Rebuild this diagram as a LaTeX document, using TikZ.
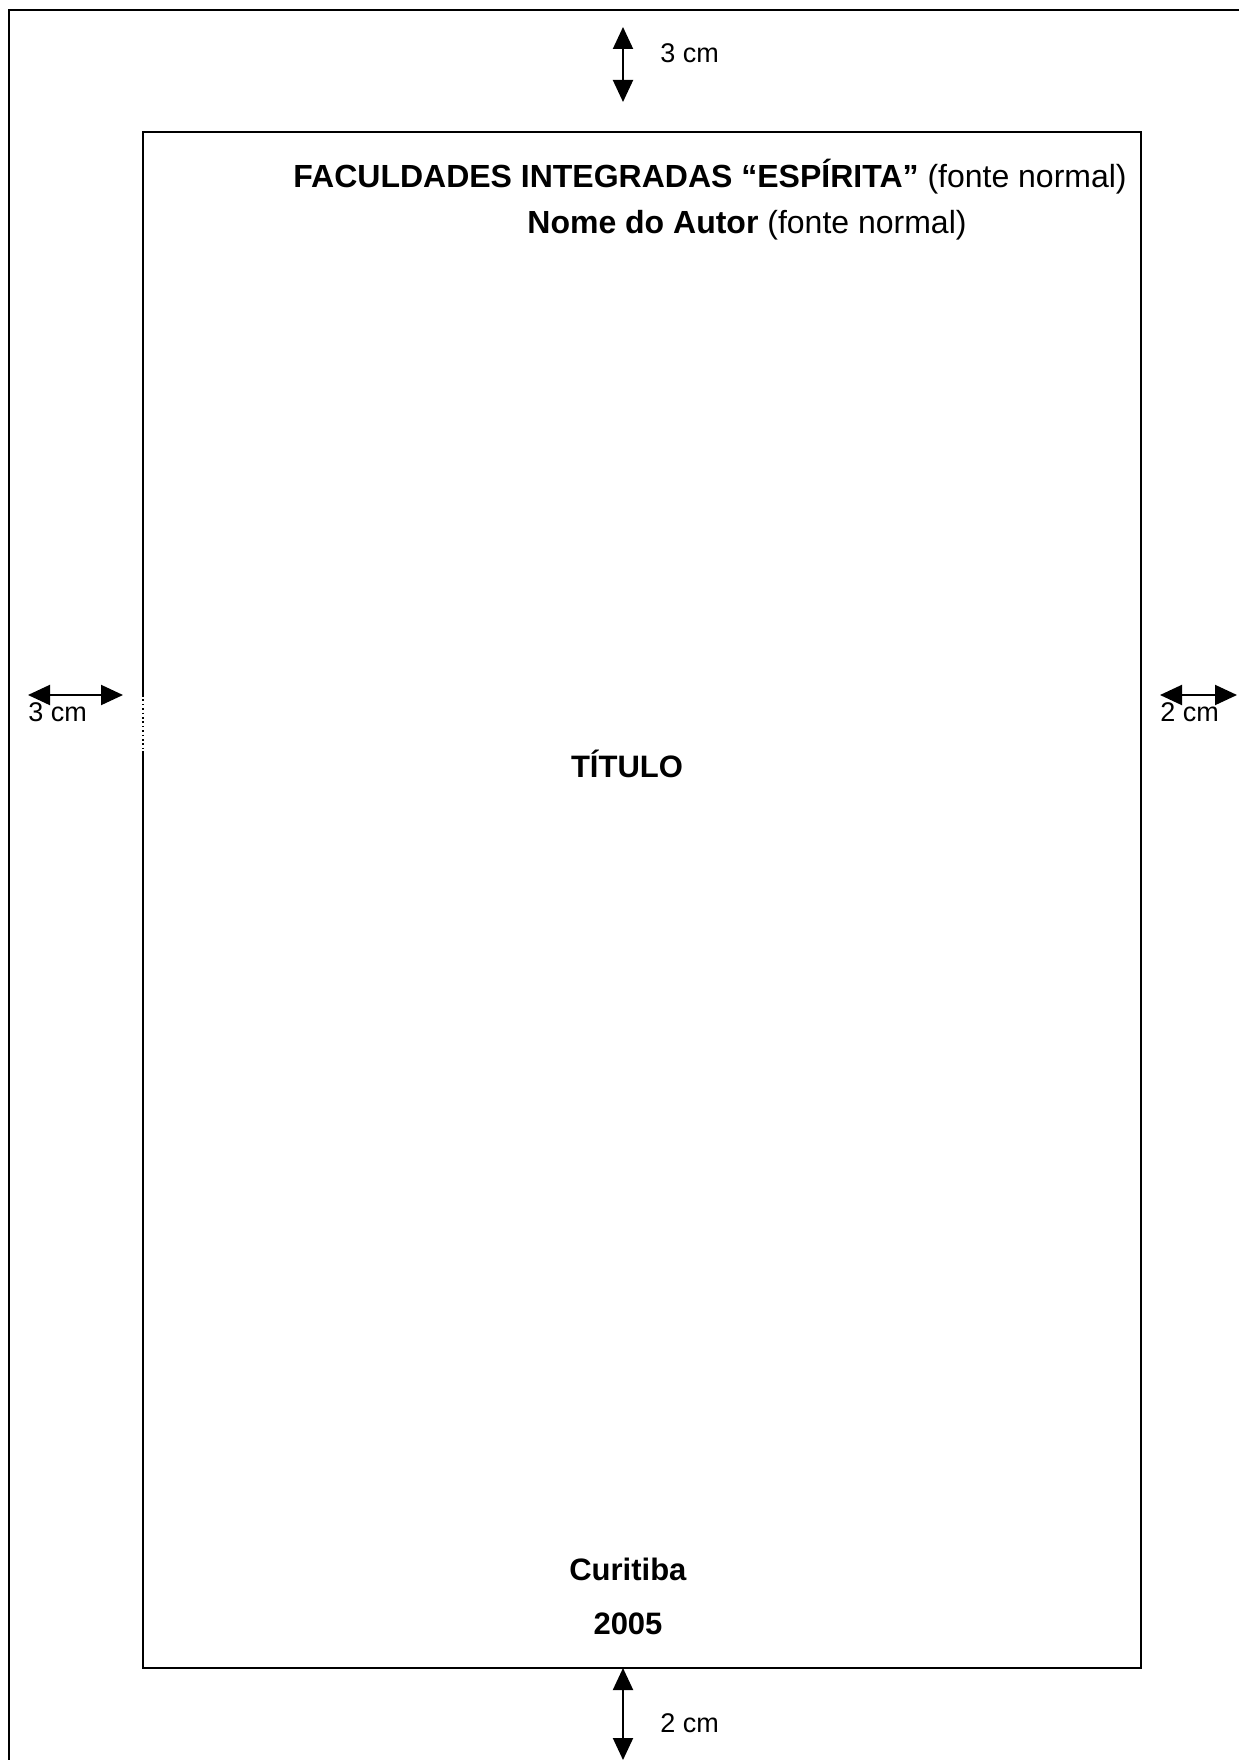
\documentclass[tikz,border=0pt]{standalone}
\usepackage{fontspec}
\setmainfont{Liberation Sans}
\usetikzlibrary{arrows.meta,positioning}

\begin{document}
\begin{tikzpicture}[x=0.5pt, y=-0.5pt,
  folha/.style={line width=1pt},
  margem/.style={line width=1.3pt},
  cota/.style={line width=1pt, {Triangle[length=11pt,width=10pt]}-{Triangle[length=11pt,width=10pt]}},
  rotulo/.style={inner sep=0pt, font=\fontsize{13.5}{16}\selectfont},
  texto/.style={inner sep=0pt, font=\fontsize{15.5}{18}\selectfont},
  topo/.style={inner sep=0pt, font=\fontsize{16}{19}\selectfont}]

\useasboundingbox (0,0) rectangle (1239,1760);

% folha (A4)
\draw[folha] (1239,10) -- (9,10) -- (9,1760);

% area de texto
\draw[margem] (143,695) -- (143,132) -- (1141,132) -- (1141,1668) -- (143,1668) -- (143,751);
\draw[line width=1.1pt, dash pattern=on 0.8pt off 1.4pt] (143,695) -- (143,751);

% cotas das margens
\coordinate (sup1) at (623,27);
\coordinate (sup2) at (623,102);
\draw[cota] (sup1) -- (sup2);
\node[rotulo, anchor=west] (msup) at (660,53) {3 cm};

\coordinate (esq1) at (28,695);
\coordinate (esq2) at (123,695);
\draw[cota] (esq1) -- (esq2);
\node[rotulo, anchor=west] (mesq) at (28,712) {3 cm};

\coordinate (dir1) at (1160,695);
\coordinate (dir2) at (1237,695);
\draw[cota] (dir1) -- (dir2);
\node[rotulo, anchor=west] (mdir) at (1160,712) {2 cm};

\coordinate (inf1) at (623,1668);
\coordinate (inf2) at (623,1760);
\draw[cota] (inf1) -- (inf2);
\node[rotulo, anchor=west] (minf) at (660,1723) {2 cm};

% textos da capa
\node[topo, anchor=west] (facul) at (293,177)
  {\textbf{FACULDADES INTEGRADAS “ESPÍRITA”} (fonte normal)};
\node[topo, anchor=west] (autor) at (527,225)
  {\textbf{Nome do Autor} (fonte normal)};
\node[texto] (titulo) at (627,764) {\textbf{TÍTULO}};
\node[texto] (cidade) at (628,1569) {\textbf{Curitiba}};
\node[texto] (ano) at (628,1624) {\textbf{2005}};

\end{tikzpicture}
\end{document}
